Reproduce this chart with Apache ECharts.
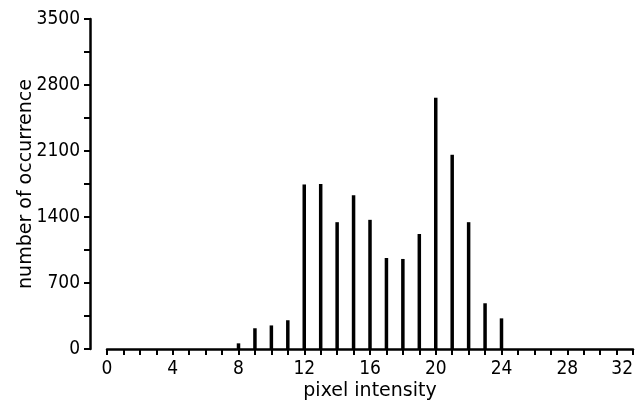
<!DOCTYPE html>
<html>
<head>
<meta charset="utf-8">
<script src="https://cdn.jsdelivr.net/npm/echarts@6/dist/echarts.min.js"></script>
<style>html,body{margin:0;padding:0;background:#fff}#c{width:639px;height:400px}</style>
</head>
<body>
<div id="c"></div>
<script>
// Data
var intensities = [8, 9, 10, 11, 12, 13, 14, 15, 16, 17, 18, 19, 20, 21, 22, 23, 24];
var occurrences = [60, 220, 250, 305, 1745, 1750, 1345, 1630, 1370, 965, 955, 1220, 2665, 2060, 1345, 485, 325];
var xTitle = 'pixel intensity';
var yTitle = 'number of occurrence';

var tickFont = "'Liberation Sans Narrow', 'DejaVu Sans Condensed', sans-serif";
var titleFont = "'DejaVu Sans', sans-serif";

var barData = intensities.map(function (x, i) { return [x, occurrences[i]]; });

var chart = echarts.init(document.getElementById('c'), null, {renderer: 'canvas'});
chart.setOption({
  animation: false,
  backgroundColor: '#fff',
  grid: {left: 107, right: 6, top: 19, bottom: 51, containLabel: false, outerBoundsMode: 'none'},
  xAxis: {
    type: 'value', min: 0, max: 32, interval: 1,
    name: xTitle, nameLocation: 'middle', nameGap: 33, nameMoveOverlap: false,
    nameTextStyle: {fontFamily: titleFont, fontSize: 19, color: '#000'},
    axisLine: {show: true, onZero: false, lineStyle: {color: '#000', width: 2.5}},
    axisTick: {show: true, inside: false, length: 6, lineStyle: {color: '#000', width: 2}},
    axisLabel: {
      margin: 11, fontFamily: tickFont, fontSize: 19, color: '#000',
      alignMaxLabel: 'right',
      formatter: function (v) { return v % 4 === 0 ? String(v) : ''; }
    },
    splitLine: {show: false}
  },
  yAxis: {
    type: 'value', min: 0, max: 3500, interval: 350, offset: 17,
    name: yTitle, nameLocation: 'middle', nameGap: 54, nameMoveOverlap: false,
    nameTextStyle: {fontFamily: titleFont, fontSize: 19, color: '#000'},
    axisLine: {show: true, onZero: false, lineStyle: {color: '#000', width: 2.5}},
    axisTick: {show: true, inside: false, length: 6, lineStyle: {color: '#000', width: 2}},
    axisLabel: {
      margin: 10, fontFamily: tickFont, fontSize: 19, color: '#000',
      formatter: function (v) { return v % 700 === 0 ? String(v) : ''; }
    },
    splitLine: {show: false}
  },
  series: [{
    type: 'bar',
    data: barData,
    barWidth: 3.5,
    itemStyle: {color: '#000'}
  }]
});
</script>
</body>
</html>
